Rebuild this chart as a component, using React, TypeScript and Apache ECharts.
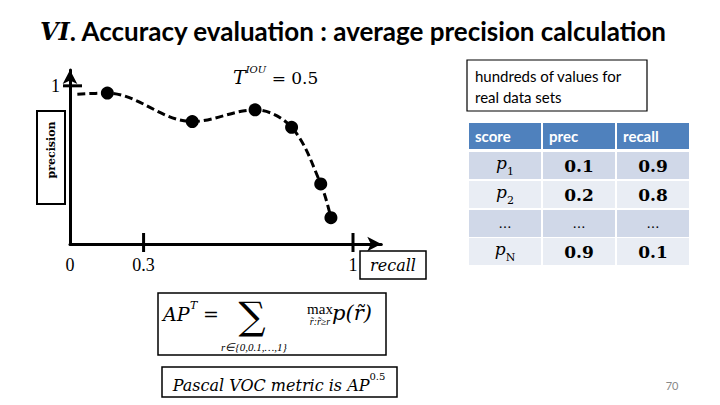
import React, { useEffect, useRef } from "react";
import * as echarts from "echarts";

// ---- chart data ----
const curveRecall = [0.026, 0.132, 0.432, 0.654, 0.783, 0.886, 0.922];
const curvePrecision = [0.947, 0.954, 0.774, 0.848, 0.738, 0.38, 0.166];
const markerShown = [false, true, true, true, true, true, true];

const xTickValues = [0.26, 1];
const yTickValues = [1];
const xLabelValues = [0, 0.26, 1];
const xLabelTexts = ["0", "0.3", "1"];
const yLabelValues = [1];
const yLabelTexts = ["1"];

// ---- table data ----
const tableHeader = ["score", "prec", "recall"];
const scoreBase = ["p", "p", "…", "p"];
const scoreSub = ["1", "2", "", "N"];
const precValues = ["0.1", "0.2", "…", "0.9"];
const recallValues = ["0.9", "0.8", "…", "0.1"];

const SERIF = "'DejaVu Serif', 'Liberation Serif', serif";
const LSERIF = "'Liberation Serif', serif";
const SANS = "Lato, 'Open Sans', sans-serif";

function buildGraphic() {
  const g: any[] = [];
  // title
  g.push({
    type: "text",
    x: 40,
    y: 31,
    style: {
      text: "{v|VI}{t|. Accuracy evaluation : average precision calculation}",
      verticalAlign: "middle",
      textVerticalAlign: "middle",
      rich: {
        v: { fontFamily: SERIF, fontStyle: "italic", fontWeight: "bold", fontSize: 24, fill: "#000" },
        t: { fontFamily: SANS, fontWeight: "bold", fontSize: 26, fill: "#000" },
      },
      fill: "#000",
    },
  });
  // T^IOU = 0.5
  g.push({
    type: "text",
    x: 233,
    y: 64,
    style: {
      text: "{a|T}{s|IOU}{b| = 0.5}",
      rich: {
        a: { fontFamily: SERIF, fontStyle: "italic", fontSize: 19, fill: "#000", lineHeight: 22, verticalAlign: "bottom" },
        b: { fontFamily: SERIF, fontSize: 17, fill: "#000", lineHeight: 22, verticalAlign: "bottom" },
        s: { fontFamily: SERIF, fontStyle: "italic", fontSize: 10, fill: "#000", lineHeight: 22, verticalAlign: "top" },
      },
    },
  });
  // y label box
  g.push({
    type: "rect",
    shape: { x: 37, y: 111, width: 28, height: 93 },
    style: { fill: "#fff", stroke: "#000", lineWidth: 2 },
  });
  g.push({
    type: "text",
    x: 51,
    y: 150,
    rotation: Math.PI / 2,
    style: {
      text: "precision",
      font: "bold 11px " + SERIF,
      fill: "#000",
      align: "center",
      verticalAlign: "middle",
      textAlign: "center",
      textVerticalAlign: "middle",
    },
  });
  // recall box
  g.push({
    type: "rect",
    shape: { x: 360, y: 251, width: 66, height: 28 },
    style: { fill: "#fff", stroke: "#000", lineWidth: 1.5 },
  });
  g.push({
    type: "text",
    x: 393,
    y: 265,
    style: {
      text: "recall",
      font: "italic 16px " + SERIF,
      fill: "#000",
      align: "center",
      verticalAlign: "middle",
      textAlign: "center",
      textVerticalAlign: "middle",
    },
  });
  // info box
  g.push({
    type: "rect",
    shape: { x: 467, y: 60, width: 180, height: 51 },
    style: { fill: "#fff", stroke: "#000", lineWidth: 1.2 },
  });
  ["hundreds of values for", "real data sets"].forEach((t, i) => {
    g.push({
      type: "text",
      x: 475,
      y: 76 + i * 21,
      style: { text: t, font: "15px " + SANS, fill: "#000", verticalAlign: "middle", textVerticalAlign: "middle" },
    });
  });
  // table
  const colX = [469, 543, 617];
  const colW = 72;
  g.push(
    ...tableHeader.map((h, c) => ({
      type: "rect",
      shape: { x: colX[c], y: 123, width: colW, height: 26 },
      style: { fill: "#4F81BD" },
    }))
  );
  g.push(
    ...tableHeader.map((h, c) => ({
      type: "text",
      x: colX[c] + 6,
      y: 136,
      style: { text: h, font: "bold 15px " + SANS, fill: "#fff", verticalAlign: "middle", textVerticalAlign: "middle" },
    }))
  );
  const rowY = [152, 181, 210, 238];
  const rowH = 27;
  rowY.forEach((y, r) => {
    const fill = r % 2 === 0 ? "#D0D8E8" : "#E9EDF4";
    colX.forEach((x) => {
      g.push({ type: "rect", shape: { x, y, width: colW, height: rowH }, style: { fill } });
    });
    const cy = y + rowH / 2;
    const isDots = scoreBase[r] === "…";
    g.push({
      type: "text",
      x: colX[0] + colW / 2,
      y: cy,
      style: {
        text: isDots ? "{d|…}" : `{p|${scoreBase[r]}}{s|${scoreSub[r]}}`,
        align: "center",
        verticalAlign: "middle",
        textAlign: "center",
        textVerticalAlign: "middle",
        rich: {
          p: { fontFamily: SERIF, fontStyle: "italic", fontSize: 17, fill: "#000", lineHeight: 22, verticalAlign: "top" },
          s: { fontFamily: SERIF, fontSize: 11, fill: "#000", lineHeight: 22, verticalAlign: "bottom" },
          d: { fontFamily: SERIF, fontSize: 13, fill: "#000" },
        },
      },
    });
    [precValues[r], recallValues[r]].forEach((v, k) => {
      g.push({
        type: "text",
        x: colX[k + 1] + colW / 2,
        y: cy,
        style: {
          text: v,
          font: (v === "…" ? "13px " : "bold 17px ") + SERIF,
          fill: "#000",
          align: "center",
          verticalAlign: "middle",
          textAlign: "center",
          textVerticalAlign: "middle",
        },
      });
    });
  });
  // formula box
  g.push({
    type: "rect",
    shape: { x: 158, y: 293, width: 228, height: 62 },
    style: { fill: "#fff", stroke: "#000", lineWidth: 1.5 },
  });
  const mid = (x: number, y: number, text: string, font: string, align = "left") => ({
    type: "text",
    x,
    y,
    style: { text, font, fill: "#000", align, verticalAlign: "middle", textAlign: align, textVerticalAlign: "middle" },
  });
  g.push(mid(163, 314, "AP", "italic 19px " + SERIF));
  g.push(mid(190, 305, "T", "italic 11px " + SERIF));
  g.push(mid(203, 314, "=", "19px " + SERIF));
  g.push(mid(252, 316, "∑", "38px " + SERIF, "center"));
  g.push(mid(254, 347, "r∈{0,0.1,…,1}", "italic 11px " + LSERIF, "center"));
  g.push(mid(320, 309, "max", "15px " + LSERIF, "center"));
  g.push(mid(320, 321, "r̃:r̃≥r", "italic 10px " + LSERIF, "center"));
  g.push(mid(332, 313, "p(r̃)", "italic 21px " + SERIF));
  // Pascal box
  g.push({
    type: "rect",
    shape: { x: 162, y: 367, width: 235, height: 30 },
    style: { fill: "#fff", stroke: "#000", lineWidth: 1.5 },
  });
  g.push({
    type: "text",
    x: 279,
    y: 382,
    style: {
      text: "{a|Pascal VOC metric is AP}{s|0.5}",
      align: "center",
      verticalAlign: "middle",
      textAlign: "center",
      textVerticalAlign: "middle",
      rich: {
        a: { fontFamily: SERIF, fontStyle: "italic", fontSize: 16, fill: "#000", lineHeight: 22, verticalAlign: "bottom" },
        s: { fontFamily: SERIF, fontSize: 10, fill: "#000", lineHeight: 22, verticalAlign: "top" },
      },
    },
  });
  // page number
  const pn = mid(672, 385, "70", "11px " + SANS, "center");
  pn.style.fill = "#888";
  g.push(pn);
  return g;
}

export default function App() {
  const ref = useRef<HTMLDivElement>(null);
  useEffect(() => {
    if (!ref.current) return;
    const chart = echarts.init(ref.current, null, { renderer: "svg" });
    const labelFont = { fontFamily: "'Liberation Serif', serif", fontSize: 18, color: "#000" };
    const tickData = [
      ...xTickValues.map((v) => [v, 0, 0]),
      ...yTickValues.map((v) => [0, v, 1]),
    ];
    chart.setOption({
      animation: false,
      backgroundColor: "#fff",
      grid: { left: 70, top: 70, width: 311.3, height: 174, containLabel: false, outerBoundsMode: "none" },
      xAxis: {
        type: "value",
        min: 0,
        max: 1.1,
        splitLine: { show: false },
        axisTick: { show: false },
        axisLine: {
          show: true,
          onZero: false,
          lineStyle: { color: "#000", width: 3 },
          symbol: ["none", "arrow"],
          symbolSize: [11, 14],
        },
        axisLabel: {
          customValues: xLabelValues,
          formatter: (v: number) => {
            const i = xLabelValues.findIndex((x) => Math.abs(x - v) < 1e-6);
            return i >= 0 ? xLabelTexts[i] : "";
          },
          margin: 12,
          ...labelFont,
        },
      },
      yAxis: {
        type: "value",
        min: 0,
        max: 1.1,
        splitLine: { show: false },
        axisTick: { show: false },
        axisLine: {
          show: true,
          onZero: false,
          lineStyle: { color: "#000", width: 3 },
          symbol: ["none", "arrow"],
          symbolSize: [11, 14],
        },
        axisLabel: {
          customValues: yLabelValues,
          formatter: (v: number) => {
            const i = yLabelValues.findIndex((x) => Math.abs(x - v) < 1e-6);
            return i >= 0 ? yLabelTexts[i] : "";
          },
          margin: 10,
          ...labelFont,
        },
      },
      series: [
        {
          type: "line",
          smooth: 0.35,
          data: curveRecall.map((r, i) => ({
            value: [r, curvePrecision[i]],
            symbol: markerShown[i] ? "circle" : "none",
          })),
          symbolSize: 13,
          itemStyle: { color: "#000" },
          lineStyle: { color: "#000", width: 3, type: [8, 4] },
          z: 3,
        },
        {
          type: "custom",
          clip: false,
          data: tickData,
          renderItem: (params: any, api: any) => {
            const p = api.coord([api.value(0), api.value(1)]);
            const isY = api.value(2) === 1;
            return {
              type: "line",
              shape: isY
                ? { x1: p[0] - 7, y1: p[1], x2: p[0] + 12, y2: p[1] }
                : { x1: p[0], y1: p[1] - 11, x2: p[0], y2: p[1] + 8 },
              style: { stroke: "#000", lineWidth: 3 },
            };
          },
          z: 4,
        },
      ],
      graphic: { elements: buildGraphic() },
    });
    return () => chart.dispose();
  }, []);
  return (
    <div
      ref={ref}
      style={{ position: "fixed", left: 0, top: 0, width: 720, height: 405, background: "#fff" }}
    />
  );
}
